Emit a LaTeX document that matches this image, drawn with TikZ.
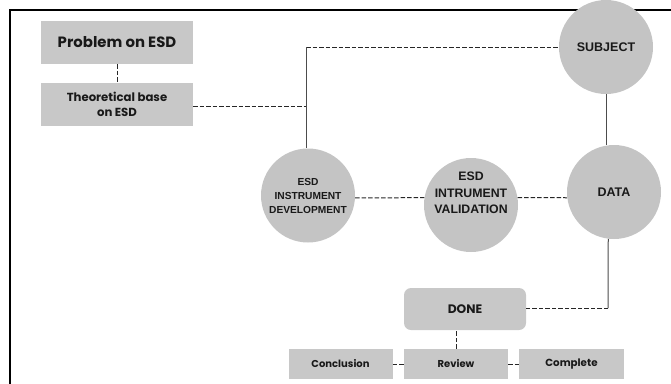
\documentclass[tikz,border=0pt]{standalone}
\usepackage{fontspec}
\setmainfont{Liberation Sans}
\newfontfamily\boxfont{Poppins}
\begin{document}
\begin{tikzpicture}[x=1pt,y=-1pt,
  boxnode/.style={fill=boxgray,draw=none,inner sep=0pt,text=black!90,align=center},
  roundnode/.style={circle,fill=circgray,draw=none,inner sep=0pt,minimum size=94pt,text=black!90,align=center},
  link/.style={draw=black!85,line width=1pt,dash pattern=on 4.5pt off 2pt},
  solidlink/.style={draw=black!70,line width=1pt}]
\definecolor{boxgray}{HTML}{C8C8C8}
\definecolor{circgray}{HTML}{C4C4C4}
\useasboundingbox (0,0) rectangle (671,383);
\clip (0,0) rectangle (671,383);

% outer frame
\draw[line width=1.8pt] (10,400) -- (10,10) -- (690,10);

% boxes and circles
\node[boxnode,minimum width=152pt,minimum height=43pt,font=\boxfont\bfseries\fontsize{14.9}{17}\selectfont] (prob) at (117,42.5) {Problem on ESD};
\node[boxnode,minimum width=152pt,minimum height=43pt,font=\boxfont\bfseries\fontsize{11.7}{15.5}\selectfont] (theo) at (117,104.5) {Theoretical base\\on ESD};

\node[roundnode,font=\bfseries\fontsize{12.5}{14}\selectfont] (subj) at (606,47) {SUBJECT};
\node[roundnode,font=\bfseries\fontsize{12.5}{14}\selectfont] (data) at (614,192) {DATA};
\node[roundnode] (val) at (471,205) {};
\node[text=black!90,align=center,inner sep=0pt,font=\bfseries\fontsize{12.3}{16.7}\selectfont] (valtext) at ([yshift=12pt]val.center) {ESD\\INTRUMENT\\VALIDATION};
\node[roundnode,font=\bfseries\fontsize{10.2}{14}\selectfont] (dev) at (308,195.5) {ESD\\INSTRUMENT\\DEVELOPMENT};

\node[boxnode,rounded corners=7pt,minimum width=122pt,minimum height=42pt,font=\boxfont\bfseries\fontsize{12.3}{14}\selectfont] (done) at (465,309) {DONE};
\node[boxnode,minimum width=104pt,minimum height=30pt,font=\boxfont\bfseries\fontsize{10}{12}\selectfont] (concl) at (340.5,364) {Conclusion};
\node[boxnode,minimum width=104pt,minimum height=30pt,font=\boxfont\bfseries\fontsize{10}{12}\selectfont] (rev) at (456,364) {Review};
\node[boxnode,minimum width=105pt,minimum height=30pt,font=\boxfont\bfseries\fontsize{10.3}{12}\selectfont] (compl) at (571.5,364) {Complete};

% junction points
\coordinate (jtop) at (306,47);
\coordinate (jmid) at (306,106);
\coordinate (jdone) at (608,308);

% connectors
\draw[link] (prob) -- (theo);
\draw[link] (theo.east |- jmid) -- (jmid);
\draw[link] (jtop) -- (subj.west);
\draw[solidlink] (jtop) -- (dev.north -| jtop);
\draw[solidlink] (subj.south) -- (subj.south |- data.north);
\draw[link] (dev.-3) -- (val.171);
\draw[link] (val.9) -- (data.187);
\draw[solidlink] (data.263) -- (jdone);
\draw[link] (jdone) -- (done.east |- jdone);
\draw[link] (rev.north) -- (rev.north |- done.south);
\draw[link] (concl) -- (rev);
\draw[link] (rev) -- (compl);
\end{tikzpicture}
\end{document}
